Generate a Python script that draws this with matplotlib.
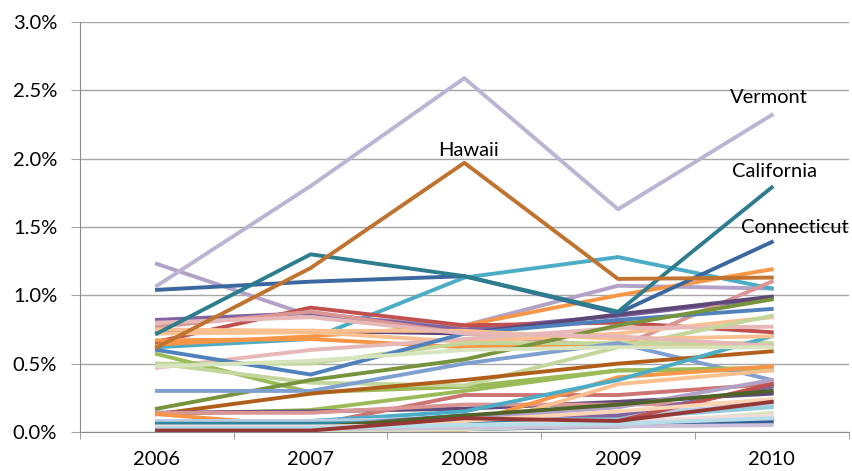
import matplotlib
matplotlib.use('Agg')
import matplotlib.pyplot as plt
from matplotlib.ticker import FuncFormatter, FixedLocator

plt.rcParams['font.family'] = ['Lato', 'DejaVu Sans']

years = ['2006', '2007', '2008', '2009', '2010']

# share of total, in percent, one list per state line
vermont     = [1.07, 1.80, 2.59, 1.63, 2.32]
hawaii      = [0.62, 1.20, 1.97, 1.12, 1.13]
california  = [0.72, 1.30, 1.14, 0.88, 1.79]
connecticut = [1.04, 1.10, 1.14, 0.87, 1.39]

other_states = [
    ('#B3A2C7', [1.23, 0.85, 0.78, 1.07, 1.05]),
    ('#4BACC6', [0.62, 0.68, 1.13, 1.28, 1.05]),
    ('#F79646', [0.64, 0.70, 0.78, 1.00, 1.19]),
    ('#8064A2', [0.82, 0.87, 0.75, 0.85, 0.98]),
    ('#C0504D', [0.66, 0.91, 0.78, 0.80, 0.73]),
    ('#D99694', [0.77, 0.88, 0.72, 0.62, 1.10]),
    ('#5C4776', [0.73, 0.74, 0.72, 0.86, 0.99]),
    ('#FAC090', [0.72, 0.73, 0.66, 0.72, 0.84]),
    ('#F79646', [0.67, 0.68, 0.62, 0.64, 0.63]),
    ('#E6B9B8', [0.47, 0.60, 0.68, 0.76, 0.77]),
    ('#C3D69B', [0.50, 0.50, 0.65, 0.65, 0.65]),
    ('#4F81BD', [0.60, 0.42, 0.72, 0.82, 0.90]),
    ('#9BBB59', [0.57, 0.29, 0.33, 0.45, 0.45]),
    ('#C3D69B', [0.50, 0.36, 0.34, 0.62, 0.85]),
    ('#77933C', [0.17, 0.38, 0.53, 0.78, 0.97]),
    ('#7F9FD0', [0.30, 0.30, 0.50, 0.65, 0.38]),
    ('#B05F1B', [0.13, 0.28, 0.38, 0.50, 0.59]),
    ('#9BBB59', [0.13, 0.16, 0.30, 0.45, 0.47]),
    ('#604A7B', [0.14, 0.15, 0.17, 0.22, 0.28]),
    ('#CD7371', [0.05, 0.05, 0.27, 0.27, 0.35]),
    ('#D99694', [0.14, 0.14, 0.20, 0.20, 0.21]),
    ('#F79646', [0.13, 0.04, 0.06, 0.40, 0.48]),
    ('#FAC090', [0.05, 0.03, 0.01, 0.35, 0.45]),
    ('#4BACC6', [0.04, 0.08, 0.15, 0.38, 0.70]),
    ('#B9CDE5', [0.08, 0.08, 0.10, 0.13, 0.20]),
    ('#93CDDD', [0.05, 0.05, 0.12, 0.10, 0.18]),
    ('#8064A2', [0.03, 0.04, 0.12, 0.12, 0.33]),
    ('#C0504D', [0.02, 0.03, 0.06, 0.08, 0.35]),
    ('#B3A2C7', [0.03, 0.05, 0.10, 0.18, 0.38]),
    ('#31859C', [0.06, 0.06, 0.07, 0.08, 0.10]),
    ('#4F81BD', [0.02, 0.02, 0.03, 0.05, 0.09]),
    ('#376092', [0.01, 0.02, 0.02, 0.04, 0.07]),
    ('#D7E4BD', [0.01, 0.01, 0.02, 0.05, 0.14]),
    ('#CCC1DA', [0.02, 0.02, 0.03, 0.04, 0.05]),
    ('#FCD5B5', [0.00, 0.02, 0.08, 0.15, 0.24]),
    ('#4F6228', [0.02, 0.03, 0.12, 0.20, 0.30]),
    ('#F2DCDB', [0.04, 0.04, 0.05, 0.08, 0.12]),
    ('#B7DEE8', [0.03, 0.03, 0.05, 0.06, 0.10]),
    ('#953735', [0.01, 0.01, 0.10, 0.08, 0.22]),
    ('#FAC090', [0.75, 0.74, 0.74, 0.68, 0.70]),
    ('#E6B9B8', [0.80, 0.84, 0.72, 0.70, 0.63]),
    ('#D7E4BD', [0.48, 0.52, 0.60, 0.62, 0.62]),
]

fig = plt.figure(figsize=(8.52, 4.71), dpi=100)
ax = fig.add_axes([0.094, 0.083, 0.902, 0.870])

x = range(len(years))
for col, vals in other_states:
    ax.plot(x, vals, color=col, lw=2.8, zorder=2)
ax.plot(x, connecticut, color='#3A67A0', lw=2.8, zorder=3)
ax.plot(x, california, color='#2E7D8E', lw=2.8, zorder=3)
ax.plot(x, hawaii, color='#C0722F', lw=2.8, zorder=3)
ax.plot(x, vermont, color='#BDB3D3', lw=2.8, zorder=3)

ax.text(3.98, 2.41, 'Vermont', fontsize=14.5, ha='center', va='baseline')
ax.text(2.03, 2.02, 'Hawaii', fontsize=14.5, ha='center', va='baseline')
ax.text(4.02, 1.865, 'California', fontsize=14.5, ha='center', va='baseline')
ax.text(4.15, 1.456, 'Connecticut', fontsize=14.5, ha='center', va='baseline')

ax.set_xlim(-0.5, 4.5)
ax.set_ylim(0, 3.0)
ax.set_yticks([0, 0.5, 1.0, 1.5, 2.0, 2.5, 3.0])
ax.yaxis.set_major_formatter(FuncFormatter(lambda v, p: '%.1f%%' % v))
ax.set_xticks(list(x))
ax.set_xticklabels(years)
ax.xaxis.set_minor_locator(FixedLocator([i + 0.5 for i in range(-1, 5)]))
ax.tick_params(axis='x', which='major', length=0, pad=14, labelsize=14.5)
ax.tick_params(axis='x', which='minor', length=5, color='#8C8C8C', direction='out')
ax.tick_params(axis='y', length=6.5, color='#A6A6A6', pad=10, labelsize=14.5)

ax.grid(axis='y', color='#A6A6A6', lw=1)
ax.set_axisbelow(True)
for s in ['top', 'right']:
    ax.spines[s].set_visible(False)
ax.spines['left'].set_color('#8C8C8C')
ax.spines['bottom'].set_color('#8C8C8C')

fig.savefig('out.png', dpi=100)
